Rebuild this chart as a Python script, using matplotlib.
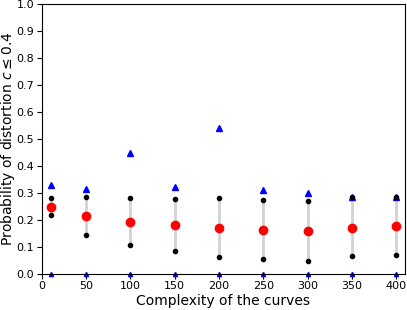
import matplotlib
matplotlib.use("Agg")
import matplotlib.pyplot as plt

complexity = [10, 50, 100, 150, 200, 250, 300, 350, 400]
mean_prob = [0.248, 0.215, 0.193, 0.181, 0.170, 0.163, 0.159, 0.171, 0.178]
upper = [0.280, 0.285, 0.280, 0.277, 0.279, 0.274, 0.270, 0.283, 0.283]
lower = [0.218, 0.145, 0.105, 0.084, 0.063, 0.053, 0.047, 0.064, 0.071]
max_prob = [0.328, 0.313, 0.447, 0.323, 0.539, 0.311, 0.299, 0.284, 0.284]
min_prob = [0.0] * 9

fig, ax = plt.subplots(figsize=(4.07, 3.10), dpi=100)
fig.subplots_adjust(left=0.103, right=0.995, top=0.987, bottom=0.117)

ax.vlines(complexity, lower, upper, color="lightgray", linewidth=2, zorder=1)
ax.plot(complexity, upper, "o", color="black", markersize=3, zorder=3)
ax.plot(complexity, lower, "o", color="black", markersize=3, zorder=3)
ax.plot(complexity, mean_prob, "o", color="red", markersize=6, zorder=4)
ax.plot(complexity, max_prob, "^", color="blue", markersize=5, zorder=2)
ax.plot(complexity, min_prob, "^", color="blue", markersize=3, zorder=2, clip_on=False)

ax.set_xlim(0, 410)
ax.set_ylim(0, 1.0)
ax.set_yticks([i / 10 for i in range(11)])
ax.set_xticks([0, 50, 100, 150, 200, 250, 300, 350, 400])
ax.tick_params(labelsize=8, pad=2)
ax.set_xlabel("Complexity of the curves", fontsize=10, labelpad=2)
ax.set_ylabel(r"Probability of distortion $c \leq 0.4$", fontsize=10, va="center")
ax.yaxis.set_label_coords(-0.094, 0.5)

fig.savefig("out.png", dpi=100)
